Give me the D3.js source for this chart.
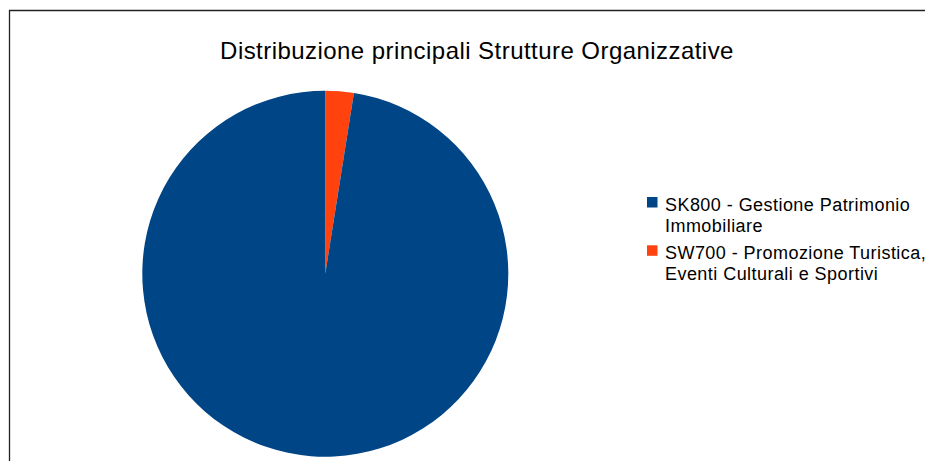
<!DOCTYPE html>
<html>
<head>
<meta charset="utf-8">
<script src="https://cdn.jsdelivr.net/npm/d3@7"></script>
<style>
  body { margin: 0; background: #fff; }
  svg { display: block; font-family: "Liberation Sans", Arial, sans-serif; }
</style>
</head>
<body>
<div id="chart"></div>
<script>
var chart_title = 'Distribuzione principali Strutture Organizzative';
var categories = [
	['SK800 - Gestione Patrimonio', 'Immobiliare'],
	['SW700 - Promozione Turistica,', 'Eventi Culturali e Sportivi']
];
var values = [97.5, 2.5];
var colors = ['#004586', '#ff420e'];

var width = 925;
var height = 461;

var svg = d3.select('#chart')
			.append('svg')
			.attr('width', width)
			.attr('height', height);

// Frame (only top and left edges are visible in the crop)
svg.append('path')
   .attr('d', 'M9.5,' + height + ' V10.5 H' + width)
   .attr('fill', 'none')
   .attr('stroke', '#222')
   .attr('stroke-width', 1.3);

// Title
svg.append('text')
   .attr('x', 477)
   .attr('y', 59)
   .attr('text-anchor', 'middle')
   .attr('font-size', '24px')
   .attr('letter-spacing', '0.45px')
   .attr('fill', '#000')
   .text(chart_title);

// Pie
var cx = 325.3, cy = 273.7, radius = 183;

var pie = d3.pie()
			.sort(null)
			.value(function(d){ return d; });
var arc = d3.arc()
			.innerRadius(0)
			.outerRadius(radius);

var order = [1, 0]; // orange slice starts at 12 o'clock
var slices = order.map(function(i){ return values[i]; });

svg.append('g')
   .attr('transform', 'translate(' + cx + ',' + cy + ')')
   .selectAll('path')
   .data(pie(slices))
   .enter()
   .append('path')
   .attr('d', arc)
   .attr('fill', function(d, i){ return colors[order[i]]; });

// Legend
var legend = svg.append('g')
				.attr('transform', 'translate(647,0)')
				.selectAll('g')
				.data(categories)
				.enter()
				.append('g')
				.attr('transform', function(d, i){
					return 'translate(0,' + (197 + i * 48.3) + ')';
				});

legend.append('rect')
	  .attr('width', 10.5)
	  .attr('height', 10.5)
	  .attr('fill', function(d, i){ return colors[i]; });

legend.append('text')
	  .attr('font-size', '18px')
	  .attr('letter-spacing', '0.45px')
	  .attr('fill', '#000')
	  .selectAll('tspan')
	  .data(function(d){ return d; })
	  .enter()
	  .append('tspan')
	  .attr('x', 18)
	  .attr('y', function(d, i){ return 13.5 + i * 21.5; })
	  .text(function(d){ return d; });
</script>
</body>
</html>
